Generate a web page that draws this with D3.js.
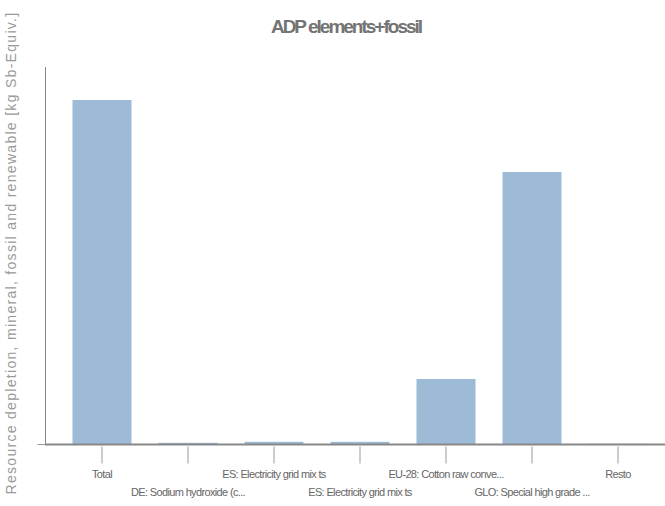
<!DOCTYPE html>
<html><head><meta charset="utf-8">
<script src="https://cdn.jsdelivr.net/npm/d3@7"></script>
<style>body{margin:0;background:#fff}svg{display:block}</style>
</head><body>
<svg id="c" width="665" height="506"></svg>
<script>
const categories = ["Total","DE: Sodium hydroxide (c...","ES: Electricity grid mix ts","ES: Electricity grid mix ts","EU-28: Cotton raw conve...","GLO: Special high grade ...","Resto"];
const values = [3.44, 0.012, 0.022, 0.022, 0.65, 2.72, 0.002];
const yMax = 3.77;
const title = "ADP elements+fossil";
const yLabel = "Resource depletion, mineral, fossil and renewable [kg Sb-Equiv.]";

const svg = d3.select("#c");
const x = d3.scaleBand().domain(d3.range(categories.length)).range([59,661]).paddingInner(0.314).paddingOuter(0.157);
const y = d3.scaleLinear().domain([0,yMax]).range([444,67]);

svg.selectAll("rect.bar").data(values).join("rect").attr("class","bar")
  .attr("x",(d,i)=>x(i)).attr("width",x.bandwidth())
  .attr("y",d=>y(d)).attr("height",d=>444-y(d)).attr("fill","#9dbad6");

// y axis
const ya = svg.append("g").attr("transform","translate(45.5,0)")
  .call(d3.axisLeft(y).tickValues([0]).tickSize(8).tickFormat(""));
ya.select(".domain").attr("stroke","#888").attr("d","M0,67V444");
ya.selectAll(".tick line").attr("stroke","#999");

// x axis
const xa = svg.append("g").attr("transform","translate(0,444.5)")
  .call(d3.axisBottom(x).tickSize(19).tickSizeOuter(0).tickFormat(""));
xa.select(".domain").attr("stroke","#888").attr("stroke-width",2).attr("d","M45,0H665");
xa.selectAll(".tick line").attr("stroke","#999").attr("y1",2);

svg.append("g").selectAll("text").data(categories).join("text")
  .attr("x",(d,i)=>x(i)+x.bandwidth()/2)
  .attr("y",(d,i)=>i%2===0?478:496)
  .attr("text-anchor","middle")
  .attr("font-family","Liberation Sans, Arial, sans-serif")
  .attr("font-size","11px").attr("letter-spacing","-0.65px")
  .attr("fill","#666").text(d=>d);

svg.append("text").attr("x",346).attr("y",33).attr("text-anchor","middle")
  .attr("font-family","Liberation Sans, Arial, sans-serif").attr("font-weight","bold")
  .attr("font-size","19px").attr("letter-spacing","-2px").attr("fill","#747474").text(title);

svg.append("text").attr("transform","translate(16,253) rotate(-90)").attr("text-anchor","middle")
  .attr("font-family","Liberation Sans, Arial, sans-serif")
  .attr("font-size","14px").attr("letter-spacing","1.3px").attr("fill","#9a9a9a").text(yLabel);
</script>
</body></html>
